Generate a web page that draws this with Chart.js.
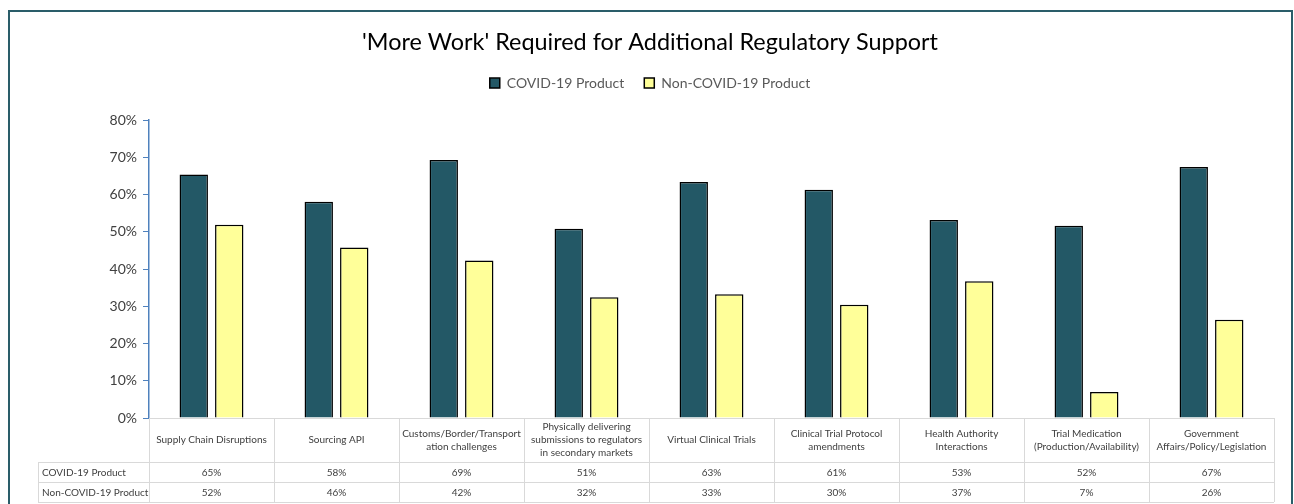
<!DOCTYPE html>
<html>
<head>
<meta charset="utf-8">
<script src="https://cdn.jsdelivr.net/npm/chart.js@4.4.1/dist/chart.umd.min.js"></script>
<style>
  body { margin: 0; background: #fff; }
  #frame {
    position: absolute; left: 8px; top: 10px;
    width: 1281px; height: 494px;
    border: 2px solid #2a5d69; border-bottom: none;
  }
  canvas { display: block; }
</style>
</head>
<body>
<div id="frame"><canvas id="chart" width="1281" height="492"></canvas></div>
<script>
// categories, wrapped the way the table header shows them
const categories = [
  ["Supply Chain Disruptions"],
  ["Sourcing API"],
  ["Customs/Border/Transport", "ation challenges"],
  ["Physically delivering", "submissions to regulators", "in secondary markets"],
  ["Virtual Clinical Trials"],
  ["Clinical Trial Protocol", "amendments"],
  ["Health Authority", "Interactions"],
  ["Trial Medication", "(Production/Availability)"],
  ["Government", "Affairs/Policy/Legislation"]
];
const seriesNames = ["COVID-19 Product", "Non-COVID-19 Product"];
const covidValues = [65.4, 58.1, 69.3, 50.8, 63.4, 61.3, 53.2, 51.6, 67.4];
const nonCovidValues = [51.9, 45.8, 42.3, 32.4, 33.2, 30.4, 36.7, 7.0, 26.4];
const yTicks = [0, 10, 20, 30, 40, 50, 60, 70, 80];

const FONT = "Lato, 'Liberation Sans', sans-serif";
const TXT = "#404040";

// extra room below the legend
const legendGap = {
  id: "legendGap",
  beforeInit(chart) {
    const fit = chart.legend.fit;
    chart.legend.fit = function () {
      fit.call(this);
      this.height += 20;
    };
  }
};

// data table under the x axis
const dataTable = {
  id: "dataTable",
  afterDraw(chart) {
    const ctx = chart.ctx;
    const x = chart.scales.x;
    const top = chart.chartArea.bottom;
    const headH = 44, rowH = 20;
    const step = x.width / categories.length;
    const left = x.left, right = x.right, tableLeft = 28;
    const rows = [covidValues, nonCovidValues];

    ctx.save();
    ctx.strokeStyle = "#d9d9d9";
    ctx.lineWidth = 1;
    ctx.beginPath();
    ctx.moveTo(left, top + 0.5); ctx.lineTo(right, top + 0.5);
    for (let r = 0; r <= rows.length; r++) {
      const y = Math.round(top + headH + r * rowH) + 0.5;
      ctx.moveTo(tableLeft, y); ctx.lineTo(right, y);
    }
    for (let i = 0; i <= categories.length; i++) {
      const xx = Math.round(left + i * step) + 0.5;
      ctx.moveTo(xx, top); ctx.lineTo(xx, top + headH + rows.length * rowH);
    }
    ctx.moveTo(tableLeft + 0.5, top + headH); ctx.lineTo(tableLeft + 0.5, top + headH + rows.length * rowH);
    ctx.stroke();

    ctx.fillStyle = TXT;
    ctx.textAlign = "center";
    ctx.textBaseline = "middle";
    ctx.font = "10px " + FONT;
    categories.forEach((lines, i) => {
      const cx = x.getPixelForValue(i);
      const lh = 13;
      const y0 = top + headH / 2 - (lines.length - 1) * lh / 2;
      lines.forEach((t, k) => ctx.fillText(t, cx, y0 + k * lh));
    });
    rows.forEach((vals, r) => {
      const cy = top + headH + r * rowH + rowH / 2 + 1;
      vals.forEach((v, i) => ctx.fillText(Math.round(v) + "%", x.getPixelForValue(i), cy));
    });
    ctx.textAlign = "left";
    seriesNames.forEach((n, r) => {
      ctx.fillText(n, tableLeft + 4, top + headH + r * rowH + rowH / 2 + 1);
    });
    ctx.restore();
  }
};

new Chart(document.getElementById("chart").getContext("2d"), {
  type: "bar",
  data: {
    labels: categories.map(c => c.join(" ")),
    datasets: [
      { label: seriesNames[0], data: covidValues, backgroundColor: "#235866", borderColor: "#000", borderWidth: 1.5 },
      { label: seriesNames[1], data: nonCovidValues, backgroundColor: "#ffff99", borderColor: "#000", borderWidth: 1.5 }
    ]
  },
  options: {
    responsive: false,
    animation: false,
    categoryPercentage: 0.568,
    barPercentage: 0.8,
    layout: { padding: { left: 16, right: 17, bottom: 86, top: 0 } },
    plugins: {
      tooltip: { enabled: false },
      title: {
        display: true,
        text: "'More Work' Required for Additional Regulatory Support",
        color: "#000",
        font: { family: FONT, size: 23.4, weight: "normal" },
        padding: { top: 16, bottom: 0 }
      },
      legend: {
        display: true,
        labels: {
          color: "#595959",
          font: { family: FONT, size: 14 },
          boxWidth: 10, boxHeight: 10,
          padding: 20
        }
      }
    },
    scales: {
      x: { display: false },
      y: {
        min: 0, max: 80,
        afterFit(scale) { scale.width = 123; },
        afterBuildTicks(scale) { scale.ticks = yTicks.map(v => ({ value: v })); },
        border: { display: true, color: "#4f81bd", width: 1.5 },
        grid: { drawOnChartArea: false, tickLength: 6, color: "#4f81bd" },
        ticks: {
          color: TXT,
          padding: 6,
          font: { family: FONT, size: 14 },
          callback: v => v + "%"
        }
      }
    }
  },
  plugins: [legendGap, dataTable]
});
</script>
</body>
</html>
